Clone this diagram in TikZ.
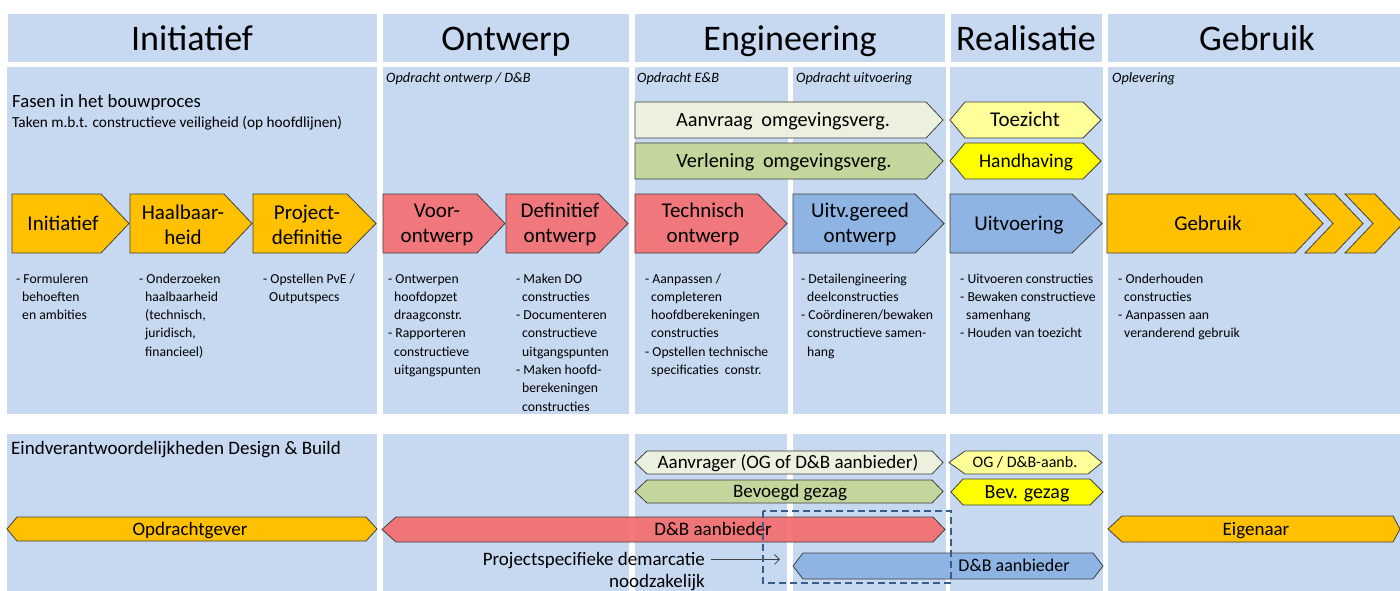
\documentclass[tikz,border=0pt]{standalone}
\usepackage{fontspec}
\setmainfont{Carlito}
\usetikzlibrary{arrows.meta,positioning}

\definecolor{panelblue}{RGB}{198,217,241}
\definecolor{phaseorange}{RGB}{255,192,0}
\definecolor{phasered}{RGB}{240,119,124}
\definecolor{barred}{RGB}{244,107,109}
\definecolor{phaseblue}{RGB}{142,180,227}
\definecolor{permitlight}{RGB}{235,241,222}
\definecolor{permitgreen}{RGB}{195,214,155}
\definecolor{superlight}{RGB}{255,255,153}
\definecolor{superyellow}{RGB}{255,255,0}
\definecolor{edgegray}{RGB}{64,64,64}
\definecolor{demarcblue}{RGB}{56,93,138}

\newcommand{\hangin}{\hspace*{6pt}}

\begin{document}
\begin{tikzpicture}[x=1pt,y=-1pt,
  panel/.style={fill=panelblue,draw=none},
  phase/.style={draw=edgegray,line width=0.8pt},
  head/.style={anchor=base,inner sep=0pt,font=\fontsize{36}{40}\selectfont},
  phasetxt/.style={align=center,inner sep=0pt,font=\fontsize{21}{25}\selectfont},
  onetxt/.style={inner sep=0pt,text height=13.5pt,text depth=0pt,font=\fontsize{21}{25}\selectfont},
  tasks/.style={anchor=north west,align=left,inner sep=0pt,font=\fontsize{13.7}{18.3}\selectfont},
  order/.style={anchor=base west,inner sep=0pt,font=\fontsize{14.3}{17}\selectfont\itshape},
  barlbl/.style={inner sep=0pt,text height=12.2pt,text depth=0pt,font=\fontsize{19}{22}\selectfont}]
\clip (0,0) rectangle (1400,591);
\fill[white] (0,0) rectangle (1400,591);

% kopregel
\fill[panel] (8,14) rectangle (377,62);
\fill[panel] (383,14) rectangle (629,62);
\fill[panel] (635,14) rectangle (945,62);
\fill[panel] (951,14) rectangle (1102,62);
\fill[panel] (1108,14) rectangle (1400,62);
\node[head] (hinit) at (192,51) {Initiatief};
\node[head] (hontw) at (506,51) {Ontwerp};
\node[head] (heng) at (790,51) {Engineering};
\node[head] (hreal) at (1026,51) {Realisatie};
\node[head] (hgebr) at (1257,51) {Gebruik};

% fasen
\fill[panel] (7,67) rectangle (377,414);
\fill[panel] (383,67) rectangle (629,414);
\fill[panel] (635,67) rectangle (788,414);
\fill[panel] (793,67) rectangle (946,414);
\fill[panel] (950,67) rectangle (1103,414);
\fill[panel] (1108,67) rectangle (1400,414);
\node[anchor=base west,inner sep=0pt,font=\fontsize{18.7}{22}\selectfont] (fasen) at (12,108) {Fasen in het bouwproces};
\node[anchor=base west,inner sep=0pt,font=\fontsize{15.3}{18}\selectfont] (taken) at (12,128) {Taken m.b.t. constructieve veiligheid (op hoofdlijnen)};
\node[order] (ordontw) at (386,83) {Opdracht ontwerp / D\&B};
\node[order] (ordeb) at (637,83) {Opdracht E\&B};
\node[order] (orduitv) at (796,83) {Opdracht uitvoering};
\node[order] (ordopl) at (1112,83) {Oplevering};

% vergunning en toezicht
\draw[phase,fill=permitlight] (635,102) -- (926,102) -- (943,120) -- (926,138) -- (635,138) -- cycle;
\node[onetxt,text height=13pt,font=\fontsize{20.3}{24}\selectfont] (aanvraag) at (783,120) {Aanvraag\hspace{4pt} omgevingsverg.};
\draw[phase,fill=permitgreen] (635,143) -- (926,143) -- (943,161) -- (926,179) -- (635,179) -- cycle;
\node[onetxt,text height=13pt,font=\fontsize{20.3}{24}\selectfont] (verlening) at (784,161) {Verlening\hspace{4pt} omgevingsverg.};
\draw[phase,fill=superlight] (950,120) -- (965,102) -- (1083,102) -- (1101,120) -- (1083,138) -- (965,138) -- cycle;
\node[onetxt] (toezicht) at (1025,120) {Toezicht};
\draw[phase,fill=superyellow] (950,161) -- (965,143) -- (1083,143) -- (1101,161) -- (1083,179) -- (965,179) -- cycle;
\node[onetxt,text height=12.5pt,font=\fontsize{19.5}{23}\selectfont] (handhaving) at (1026,161) {Handhaving};

% pijlen van de fasen
\draw[phase,fill=phaseorange] (12,194) -- (101,194) -- (129,223.5) -- (101,253) -- (12,253) -- cycle;
\node[onetxt] (pinit) at (63,223.5) {Initiatief};
\draw[phase,fill=phaseorange] (130,194) -- (224,194) -- (252,223.5) -- (224,253) -- (130,253) -- cycle;
\node[phasetxt] (phaalb) at (183,224.5) {Haalbaar-\\heid};
\draw[phase,fill=phaseorange] (253,194) -- (347,194) -- (376,223.5) -- (347,253) -- (253,253) -- cycle;
\node[phasetxt] (pdef) at (307,224.5) {Project-\\definitie};
\draw[phase,fill=phasered] (383,194) -- (477,194) -- (505,223.5) -- (477,253) -- (383,253) -- cycle;
\node[phasetxt] (pvo) at (437,224.5) {Voor-\\ontwerp};
\draw[phase,fill=phasered] (506,194) -- (599,194) -- (628,223.5) -- (599,253) -- (506,253) -- cycle;
\node[phasetxt] (pdo) at (560,224.5) {Definitief\\ontwerp};
\draw[phase,fill=phasered] (635,194) -- (758,194) -- (787,223.5) -- (758,253) -- (635,253) -- cycle;
\node[phasetxt] (pto) at (703,224.5) {Technisch\\ontwerp};
\draw[phase,fill=phaseblue] (793,194) -- (915,194) -- (944,223.5) -- (915,253) -- (793,253) -- cycle;
\node[phasetxt] (puo) at (860,224.5) {Uitv.gereed\\ontwerp};
\draw[phase,fill=phaseblue] (950,194) -- (1072,194) -- (1102,223.5) -- (1072,253) -- (950,253) -- cycle;
\node[onetxt] (puitv) at (1019,223.5) {Uitvoering};
\draw[phase,fill=phaseorange] (1107,194) -- (1295,194) -- (1323,223.5) -- (1295,253) -- (1107,253) -- cycle;
\node[onetxt] (pgebr) at (1208,223.5) {Gebruik};
\draw[phase,fill=phaseorange] (1305,194) -- (1335,194) -- (1363,223.5) -- (1335,253) -- (1305,253) -- (1333,223.5) -- cycle;
\draw[phase,fill=phaseorange] (1345,194) -- (1375,194) -- (1403,223.5) -- (1375,253) -- (1345,253) -- (1373,223.5) -- cycle;

% taken
\node[tasks] (tinit) at (16,270) {\strut- Formuleren\\\hangin behoeften\\\hangin en ambities};
\node[tasks] (thaalb) at (139,270) {\strut- Onderzoeken\\\hangin haalbaarheid\\\hangin (technisch,\\\hangin juridisch,\\\hangin financieel)};
\node[tasks] (tdef) at (263,270) {\strut- Opstellen PvE /\\\hangin Outputspecs};
\node[tasks] (tvo) at (388,270) {\strut- Ontwerpen\\\hangin hoofdopzet\\\hangin draagconstr.\\- Rapporteren\\\hangin constructieve\\\hangin uitgangspunten};
\node[tasks] (tdo) at (516,270) {\strut- Maken DO\\\hangin constructies\\- Documenteren\\\hangin constructieve\\\hangin uitgangspunten\\- Maken hoofd-\\\hangin berekeningen\\\hangin constructies};
\node[tasks] (tto) at (645,270) {\strut- Aanpassen /\\\hangin completeren\\\hangin hoofdberekeningen\\\hangin constructies\\- Opstellen technische\\\hangin specificaties\ \ constr.};
\node[tasks] (tuo) at (801,270) {\strut- Detailengineering\\\hangin deelconstructies\\- Coördineren/bewaken\\\hangin constructieve samen-\\\hangin hang};
\node[tasks] (tuitv) at (960,270) {\strut- Uitvoeren constructies\\- Bewaken constructieve\\\hangin samenhang\\- Houden van toezicht};
\node[tasks] (tgebr) at (1118,270) {\strut- Onderhouden\\\hangin constructies\\- Aanpassen aan\\\hangin veranderend gebruik};

% eindverantwoordelijkheden
\fill[panel] (7,434) rectangle (377,591);
\fill[panel] (383,434) rectangle (629,591);
\fill[panel] (635,434) rectangle (787,591);
\fill[panel] (793,434) rectangle (946,591);
\fill[panel] (950,434) rectangle (1103,591);
\fill[panel] (1108,434) rectangle (1400,591);
\node[barlbl,anchor=base west] (eind) at (11,454) {Eindverantwoordelijkheden Design \& Build};

\draw[phase,fill=permitlight] (635,462.5) -- (647,451) -- (932,451) -- (943,462.5) -- (932,474) -- (647,474) -- cycle;
\node[barlbl] (aanvrager) at (788,462.5) {Aanvrager (OG of D\&B aanbieder)};
\draw[phase,fill=permitgreen] (635,491.5) -- (647,480) -- (932,480) -- (943,491.5) -- (932,503) -- (647,503) -- cycle;
\node[barlbl] (bevoegd) at (790,491.5) {Bevoegd gezag};
\draw[phase,fill=superlight] (949,462.5) -- (965,451) -- (1088,451) -- (1102,462.5) -- (1088,474) -- (965,474) -- cycle;
\node[barlbl,text height=10.3pt,font=\fontsize{16}{19}\selectfont] (ogdb) at (1025,462.5) {OG / D\&B-aanb.};
\draw[phase,fill=superyellow] (951,492) -- (963,479) -- (1090,479) -- (1103,492) -- (1090,505) -- (963,505) -- cycle;
\node[barlbl,text height=12.9pt,font=\fontsize{20}{23}\selectfont] (bevgez) at (1027,492) {Bev. gezag};

\draw[phase,fill=phaseorange] (7,529) -- (17,517) -- (366,517) -- (377,529) -- (366,541) -- (17,541) -- cycle;
\node[barlbl] (opdrachtgever) at (190,529) {Opdrachtgever};
\draw[phase,fill=barred,fill opacity=0.9] (382,529.5) -- (396,517) -- (933,517) -- (945,529.5) -- (933,542) -- (396,542) -- cycle;
\node[barlbl] (dbred) at (713,529.5) {D\&B aanbieder};
\draw[phase,fill=phaseorange] (1108,529) -- (1122,516) -- (1393,516) -- (1400,529) -- (1393,542) -- (1122,542) -- cycle;
\node[barlbl] (eigenaar) at (1256,529) {Eigenaar};
\draw[phase,fill=phaseblue] (793,566) -- (803,553) -- (1093,553) -- (1103,566) -- (1093,579) -- (803,579) -- cycle;
\node[barlbl,text height=11.6pt,font=\fontsize{18}{21}\selectfont] (dbblue) at (1014,566) {D\&B aanbieder};

% demarcatie
\node[barlbl,anchor=base east] (demarc) at (705,565.5) {Projectspecifieke demarcatie};
\node[barlbl,anchor=base east] (demarc2) at (705,587.5) {noodzakelijk};
\coordinate (demarcend) at (780,561);
\draw[edgegray,line width=0.8pt,-{Straight Barb[length=5pt,width=10pt]}] ([xshift=6pt]demarc.east) -- (demarc.east -| demarcend);
\draw[demarcblue,line width=2pt,dash pattern=on 7pt off 4pt] (763,511) rectangle (951,583);
\end{tikzpicture}
\end{document}
